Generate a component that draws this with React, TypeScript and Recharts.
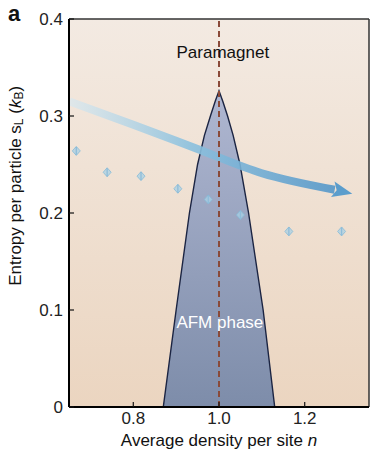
import React from "react";
import {
  ComposedChart,
  XAxis,
  YAxis,
  CartesianGrid,
  Area,
  Line,
  Scatter,
  ErrorBar,
  ReferenceLine,
  ReferenceDot,
} from "recharts";

// AFM dome boundary (density n, entropy s)
const domeN = [0.87, 0.9, 0.931, 0.95, 0.966, 0.98, 0.991, 1.0, 1.009, 1.02, 1.033, 1.049, 1.069, 1.103, 1.13];
const domeS = [0, 0.1, 0.2, 0.25, 0.28, 0.3, 0.315, 0.326, 0.315, 0.3, 0.28, 0.25, 0.2, 0.1, 0];

// guide arrow path
const arrowN = [0.651, 0.8, 0.95, 1.1, 1.27];
const arrowS = [0.315, 0.291, 0.266, 0.241, 0.224];

// measured entropy points
const pointN = [0.667, 0.739, 0.818, 0.904, 0.975, 1.05, 1.163, 1.286];
const pointS = [0.264, 0.242, 0.238, 0.225, 0.214, 0.198, 0.181, 0.181];
const pointErr = [0.004, 0.004, 0.004, 0.004, 0.004, 0.004, 0.004, 0.004];

const xTicks = [0.8, 1.0, 1.2];
const yTicks = [0, 0.1, 0.2, 0.3, 0.4];

const domeData = domeN.map((n, i) => ({ n, s: domeS[i] }));
const arrowData = arrowN.map((n, i) => ({ n, s: arrowS[i] }));
const pointData = pointN.map((n, i) => ({ n, s: pointS[i], err: pointErr[i] }));

const FONT = "'Liberation Sans', Arial, sans-serif";

const YTick = (props: any) => {
  const { x, y, payload } = props;
  const v = payload.value;
  return (
    <g>
      <line x1={x + 6} x2={x + 11} y1={y} y2={y} stroke="#111" strokeWidth={1.2} />
      <text x={x} y={y} dy="0.36em" textAnchor="end" fontSize={17} fill="#222" fontFamily={FONT}>
        {v === 0 ? "0" : v.toFixed(1)}
      </text>
    </g>
  );
};

const XTick = (props: any) => {
  const { x, y, payload } = props;
  return (
    <g>
      <line x1={x} x2={x} y1={y - 5} y2={y - 10} stroke="#111" strokeWidth={1.2} />
      <text x={x} y={y} dy="0.72em" textAnchor="middle" fontSize={17} fill="#222" fontFamily={FONT}>
        {payload.value.toFixed(1)}
      </text>
    </g>
  );
};

const Diamond = (props: any) => {
  const { cx, cy } = props;
  if (cx == null || cy == null) return <g />;
  return (
    <g>
      <polygon
        points={`${cx},${cy - 4.5} ${cx + 4},${cy} ${cx},${cy + 4.5} ${cx - 4},${cy}`}
        fill="#a9d0e4"
        fillOpacity={0.75}
        stroke="#86bbd8"
        strokeWidth={0.8}
      />
    </g>
  );
};

const ArrowDot = (props: any) => {
  const { cx, cy, index, points } = props;
  if (index !== arrowData.length - 1 || cx == null) return <g key={`ad-${index}`} />;
  let ang = 0.12;
  if (points && points.length > 1) {
    const p = points[points.length - 2];
    ang = Math.atan2(cy - p.y, cx - p.x);
  }
  const ux = Math.cos(ang);
  const uy = Math.sin(ang);
  const px = -uy;
  const py = ux;
  const len = 18;
  const hw = 8;
  const tip = [cx + ux * len, cy + uy * len];
  const a = [cx - ux * 2 + px * hw, cy - uy * 2 + py * hw];
  const b = [cx + ux * 2, cy + uy * 2];
  const c = [cx - ux * 2 - px * hw, cy - uy * 2 - py * hw];
  return (
    <polygon
      key={`ad-${index}`}
      points={`${tip.join(",")} ${a.join(",")} ${b.join(",")} ${c.join(",")}`}
      fill="#5b9dcc"
    />
  );
};

const YLabel = (props: any) => {
  const vb = props.viewBox || { x: 19, y: 19, width: 50, height: 388 };
  const cx = vb.x - 4;
  const cy = vb.y + vb.height * 0.43;
  return (
    <text
      transform={`translate(${cx},${cy}) rotate(-90)`}
      textAnchor="middle"
      dominantBaseline="central"
      fontSize={17}
      fill="#111"
      fontFamily={FONT}
    >
      Entropy per particle s
      <tspan dy={4} fontSize={12}>L</tspan>
      <tspan dy={-4}> (</tspan>
      <tspan fontStyle="italic">k</tspan>
      <tspan dy={4} fontSize={12}>B</tspan>
      <tspan dy={-4}>)</tspan>
    </text>
  );
};

const XLabel = (props: any) => {
  const vb = props.viewBox || { x: 69, y: 407, width: 300, height: 30 };
  return (
    <text
      x={vb.x + vb.width / 2}
      y={vb.y + 39}
      textAnchor="middle"
      fontSize={17}
      fill="#111"
      fontFamily={FONT}
    >
      Average density per site <tspan fontStyle="italic">n</tspan>
    </text>
  );
};

export default function App() {
  return (
    <div style={{ position: "absolute", left: 0, top: 0, width: 379, height: 450, background: "#fff", fontFamily: FONT }}>
      <div
        style={{
          position: "absolute",
          left: 8,
          top: 3,
          fontSize: 22,
          lineHeight: "22px",
          fontWeight: 900,
          color: "#111",
        }}
      >
        a
      </div>
      <ComposedChart width={379} height={450} margin={{ top: 19, right: 10, bottom: 13, left: 19 }}>
        <defs>
          <linearGradient id="bg" x1="0" y1="0" x2="0" y2="1">
            <stop offset="0%" stopColor="#f3eae2" />
            <stop offset="100%" stopColor="#ebd5c0" />
          </linearGradient>
          <linearGradient id="dome" x1="0" y1="0" x2="0" y2="1">
            <stop offset="0%" stopColor="#aab3d0" />
            <stop offset="100%" stopColor="#7587a8" />
          </linearGradient>
          <linearGradient id="arrow" x1="0" y1="0" x2="1" y2="0">
            <stop offset="0%" stopColor="#d9e8ef" stopOpacity={0.8} />
            <stop offset="45%" stopColor="#8cc1de" />
            <stop offset="100%" stopColor="#5497c9" />
          </linearGradient>
        </defs>
        <CartesianGrid horizontal={false} vertical={false} fill="url(#bg)" fillOpacity={1} />
        <XAxis
          type="number"
          dataKey="n"
          domain={[0.65, 1.35]}
          ticks={xTicks}
          allowDataOverflow
          height={30}
          tickSize={0}
          tickMargin={5}
          tick={<XTick />}
          axisLine={{ stroke: "#000", strokeWidth: 2 }}
          label={<XLabel />}
        />
        <YAxis
          type="number"
          dataKey="s"
          domain={[0, 0.4]}
          ticks={yTicks}
          allowDataOverflow
          width={50}
          tickSize={0}
          tickMargin={6}
          tick={<YTick />}
          axisLine={{ stroke: "#000", strokeWidth: 2 }}
          label={<YLabel />}
        />
        <Scatter data={pointData} shape={<Diamond />} isAnimationActive={false}>
          <ErrorBar dataKey="err" direction="y" width={0} stroke="#3f82bb" strokeWidth={1.3} />
        </Scatter>
        <Area
          data={domeData}
          dataKey="s"
          type="linear"
          stroke="#1b2442"
          strokeWidth={1.4}
          fill="url(#dome)"
          fillOpacity={0.93}
          baseValue={0}
          isAnimationActive={false}
        />
        <Line
          data={arrowData}
          dataKey="s"
          type="monotone"
          stroke="url(#arrow)"
          strokeWidth={8}
          strokeOpacity={0.9}
          dot={<ArrowDot />}
          activeDot={false}
          isAnimationActive={false}
        />
        <ReferenceLine x={1.0} stroke="#8a4a39" strokeWidth={2} strokeDasharray="6 4" />
        <ReferenceLine y={0.4} stroke="#333" strokeWidth={1.5} />
        <ReferenceLine x={1.35} stroke="#333" strokeWidth={1.5} />
        <ReferenceDot
          x={1.009}
          y={0.366}
          r={0}
          fill="none"
          stroke="none"
          label={{ value: "Paramagnet", position: "center", fill: "#111", fontSize: 17 }}
        />
        <ReferenceDot
          x={1.002}
          y={0.088}
          r={0}
          fill="none"
          stroke="none"
          label={{ value: "AFM phase", position: "center", fill: "#fff", fontSize: 17 }}
        />
      </ComposedChart>
    </div>
  );
}
